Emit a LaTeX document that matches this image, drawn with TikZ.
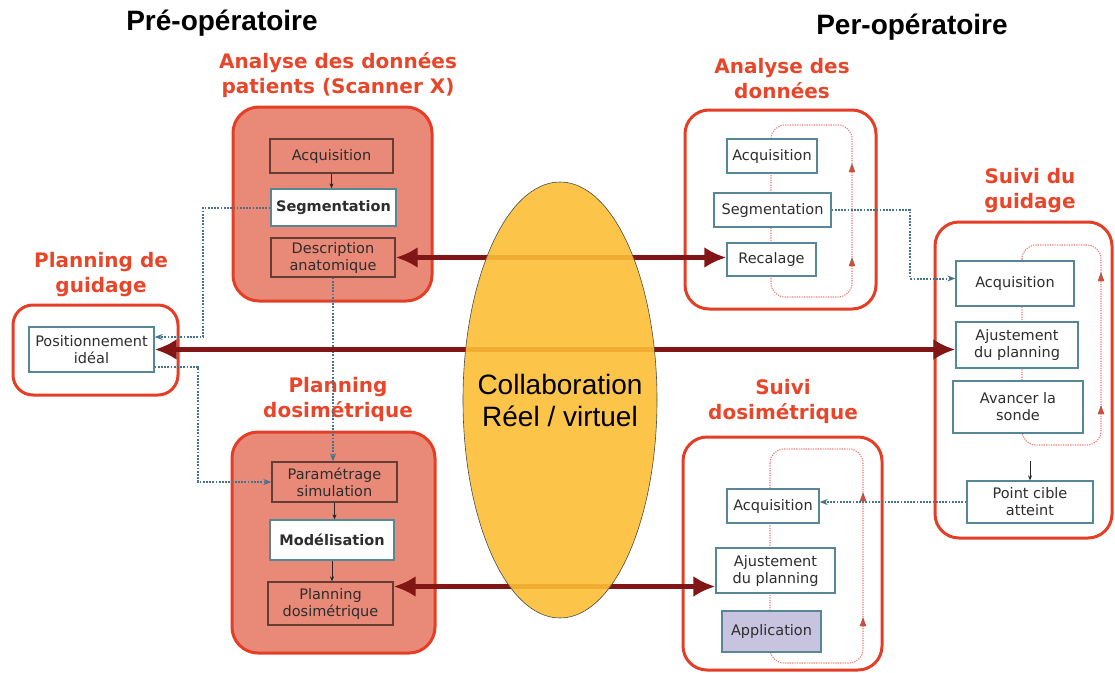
\documentclass[tikz,border=0pt]{standalone}
\usepackage{fontspec}
\setmainfont{DejaVu Sans}
\newfontfamily\arialf{Liberation Sans}
\usetikzlibrary{arrows.meta,calc,shapes.geometric}
\definecolor{hred}{RGB}{232,70,42}
\definecolor{bred}{RGB}{228,62,38}
\definecolor{salmon}{RGB}{233,137,120}
\definecolor{darkarr}{RGB}{130,22,22}
\definecolor{dotblue}{RGB}{70,115,135}
\definecolor{bluegrey}{RGB}{85,135,150}
\definecolor{boxdark}{RGB}{100,62,52}
\definecolor{pinkl}{RGB}{242,120,115}
\definecolor{ellfill}{RGB}{252,190,52}
\definecolor{lav}{RGB}{200,196,224}
\definecolor{txt}{RGB}{45,45,45}
\newcommand\mytri[2]{\filldraw[fill=hred, draw=black!60, line width=0.4pt] (#1-3,#2+4) -- (#1+3,#2+4) -- (#1,#2-4) -- cycle;}
\begin{document}
\begin{tikzpicture}[x=1pt,y=-1pt,
 outerA/.style={draw=bred, line width=3pt, rounded corners=26pt, fill=salmon},
 outerB/.style={draw=bred, line width=3pt, rounded corners=24pt, fill=white},
 heading/.style={text=hred, font=\fontsize{20}{25}\selectfont\bfseries, align=center},
 ttl/.style={font=\arialf\fontsize{28}{30}\selectfont\bfseries},
 ib/.style={draw, line width=1.3pt, inner sep=0pt, align=center, text=txt, font=\fontsize{14.5}{17}\selectfont},
 ibd/.style={ib, draw=boxdark},
 ibb/.style={ib, draw=bluegrey, fill=white},
 bold/.style={font=\fontsize{14.5}{17}\selectfont\bfseries},
 loopc/.style={draw=pinkl, line width=1.1pt, dash pattern=on 1.2pt off 1.2pt, rounded corners=14pt},
 dotc/.style={draw=dotblue, line width=2pt, dash pattern=on 1.8pt off 1.4pt, -{Stealth[length=8pt,width=6pt]}},
 sarr/.style={draw=black!85, line width=0.9pt, -{Stealth[length=5pt,width=4pt]}},
 bigarr/.style={draw=darkarr, line width=5pt, {Latex[length=22pt,width=21pt]}-{Latex[length=22pt,width=21pt]}}
]
\useasboundingbox (0,0) rectangle (1115,672);

% titles
\node[ttl] (t1) at (222,23) {Pré-opératoire};
\node[ttl] (t2) at (912,27) {Per-opératoire};

% headings
\node[heading] (h1) at (338,75) {Analyse des données\\patients (Scanner X)};
\node[heading] (h2) at (101,275) {Planning de\\guidage};
\node[heading] (h3) at (338,399) {Planning\\dosimétrique};
\node[heading] (h4) at (782,79) {Analyse des\\données};
\node[heading] (h5) at (1030,191) {Suivi du\\guidage};
\node[heading] (h6) at (783,401) {Suivi\\dosimétrique};

% outer boxes
\draw[outerA] (233,107) rectangle (432,301);
\draw[outerB, rounded corners=20pt] (13,305) rectangle (178,395);
\draw[outerA] (232,432) rectangle (435,653);
\draw[outerB] (685,110) rectangle (876,309);
\draw[outerB] (935,222) rectangle (1112,538);
\draw[outerB] (683,437) rectangle (882,670);

% loops
\draw[loopc] (771,125) rectangle (852,297);
\draw[loopc] (1022,245) rectangle (1101,445);
\draw[loopc] (770,449) rectangle (863,663);
\mytri{852}{168}\mytri{852}{262}
\mytri{1101}{277}\mytri{1101}{410}
\mytri{863}{497}\mytri{863}{622}

% inner boxes: pre-op
\node[ibd, minimum width=123pt, minimum height=34pt] (aAcq) at (331.5,156) {Acquisition};
\node[ibb, bold, minimum width=125pt, minimum height=37pt] (aSeg) at (333.5,207.5) {Segmentation};
\node[ibd, minimum width=124pt, minimum height=39pt] (aDesc) at (333,257.5) {Description\\anatomique};
\node[ibb, minimum width=125pt, minimum height=45pt] (Pos) at (91.5,349.5) {Positionnement\\idéal};
\node[ibd, minimum width=125pt, minimum height=40pt] (pPar) at (334.5,482) {Paramétrage\\simulation};
\node[ibb, bold, minimum width=124pt, minimum height=40pt] (pMod) at (332,540) {Modélisation};
\node[ibd, minimum width=125pt, minimum height=43pt] (pPlan) at (330.5,603.5) {Planning\\dosimétrique};

% inner boxes: per-op
\node[ibb, minimum width=90pt, minimum height=34pt] (rAcq) at (772,156) {Acquisition};
\node[ibb, minimum width=117pt, minimum height=34pt] (rSeg) at (772.5,210) {Segmentation};
\node[ibb, minimum width=89pt, minimum height=33pt] (rRec) at (771.5,259.5) {Recalage};
\node[ibb, minimum width=118pt, minimum height=45pt] (gAcq) at (1015,283.5) {Acquisition};
\node[ibb, minimum width=122pt, minimum height=46pt] (gAju) at (1017,345) {Ajustement\\du planning};
\node[ibb, minimum width=130pt, minimum height=52pt] (gAva) at (1018,407) {Avancer la\\sonde};
\node[ibb, minimum width=126pt, minimum height=42pt] (gPt) at (1030,502) {Point cible\\atteint};
\node[ibb, minimum width=92pt, minimum height=34pt] (dAcq) at (773,506) {Acquisition};
\node[ibb, minimum width=119pt, minimum height=45pt] (dAju) at (775.5,570.5) {Ajustement\\du planning};
\node[ibb, fill=lav, minimum width=99pt, minimum height=41pt] (dApp) at (771.5,631.5) {Application};

% small arrows
\draw[sarr] (aAcq.south) -- (aAcq.south |- aSeg.north);
\draw[sarr] (pPar.south) -- (pPar.south |- pMod.north);
\draw[sarr] (pMod.south) -- (pMod.south |- pPlan.north);
\draw[sarr] ([yshift=19pt]gPt.north) -- (gPt.north);

% dotted connectors
\draw[dotc] (aSeg.west) -- (203,207.5) |- ([yshift=12.5pt]Pos.east);
\draw[dotc] ([yshift=-17.5pt]Pos.east) -- (198,367) |- (pPar.west);
\draw[dotc] (aDesc.south) -- (aDesc.south |- pPar.north);
\draw[dotc] (rSeg.east) -- (910,210) |- ([yshift=5pt]gAcq.west);
\draw[dotc] (gPt.west) -- (gPt.west -| dAcq.east);

% thick arrows
\draw[bigarr] (aDesc.east) -- (aDesc.east -| rRec.west);
\draw[bigarr] (Pos.east) -- (Pos.east -| gAju.west);
\draw[bigarr] ([yshift=17pt]pPlan.east) -- ([yshift=17pt]pPlan.east -| dAju.west);

% ellipse
\node[ellipse, draw=black!70, line width=0.6pt, fill=ellfill, fill opacity=0.9,
  minimum width=194pt, minimum height=436pt, inner sep=0pt] (ell) at (560,400) {};
\node[align=center, font=\arialf\fontsize{28}{32}\selectfont] (coll) at (ell.center) {Collaboration\\Réel / virtuel};
\end{tikzpicture}
\end{document}
